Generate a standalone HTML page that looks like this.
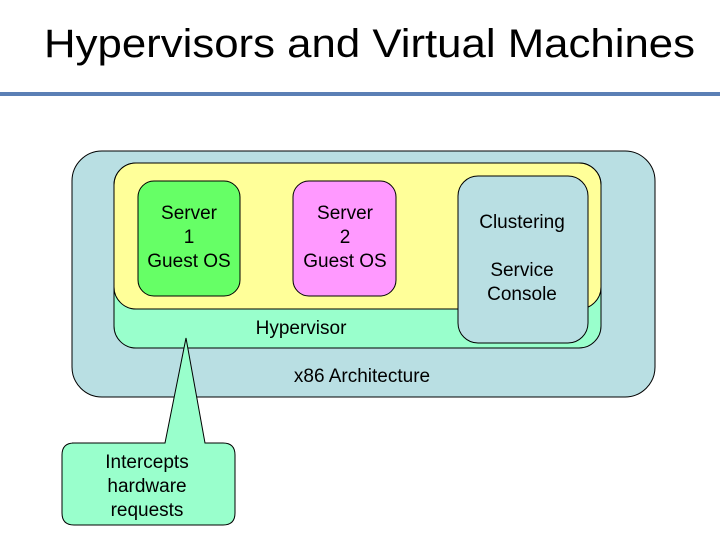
<!DOCTYPE html>
<html><head><style>
body{margin:0;width:720px;height:540px;background:#fff;overflow:hidden;font-family:"Liberation Sans",sans-serif}
</style></head><body>
<svg width="720" height="540" xmlns="http://www.w3.org/2000/svg" font-family="Liberation Sans, sans-serif">
<text x="44" y="57" font-size="40" fill="#000" textLength="651" lengthAdjust="spacingAndGlyphs">Hypervisors and Virtual Machines</text>
<rect x="0" y="92" width="720" height="4" fill="#5b7fb5"/>
<rect x="72" y="151" width="583" height="246" rx="30" fill="#b9dfe3" stroke="#000" stroke-width="1"/>
<rect x="114" y="163" width="487" height="185" rx="22" fill="#99ffcc" stroke="#000" stroke-width="1"/>
<rect x="114" y="163" width="487" height="146" rx="22" fill="#ffff99" stroke="#000" stroke-width="1"/>
<rect x="138" y="181" width="102" height="115" rx="16" fill="#66ff66" stroke="#000" stroke-width="1"/>
<rect x="293" y="181" width="103" height="115" rx="16" fill="#ff99ff" stroke="#000" stroke-width="1"/>
<rect x="458" y="176" width="130" height="167" rx="20" fill="#b9dfe3" stroke="#000" stroke-width="1"/>
<g font-size="19" fill="#000" text-anchor="middle">
<text x="189" y="219">Server</text><text x="189" y="243">1</text><text x="189" y="267">Guest OS</text>
<text x="345" y="219">Server</text><text x="345" y="243">2</text><text x="345" y="267">Guest OS</text>
<text x="522" y="228">Clustering</text><text x="522" y="276">Service</text><text x="522" y="300">Console</text>
<text x="301" y="334">Hypervisor</text>
<text x="362" y="382">x86 Architecture</text>
</g>
<path d="M72,443 L165,443 L186,338 L205,443 L223,443 Q235,443 235,455 L235,513 Q235,525 223,525 L74,525 Q62,525 62,513 L62,455 Q62,443 74,443 Z" fill="#99ffcc" stroke="#000" stroke-width="1"/>
<g font-size="19" fill="#000" text-anchor="middle">
<text x="147" y="468">Intercepts</text><text x="147" y="492">hardware</text><text x="147" y="516">requests</text>
</g>
</svg>
</body></html>
